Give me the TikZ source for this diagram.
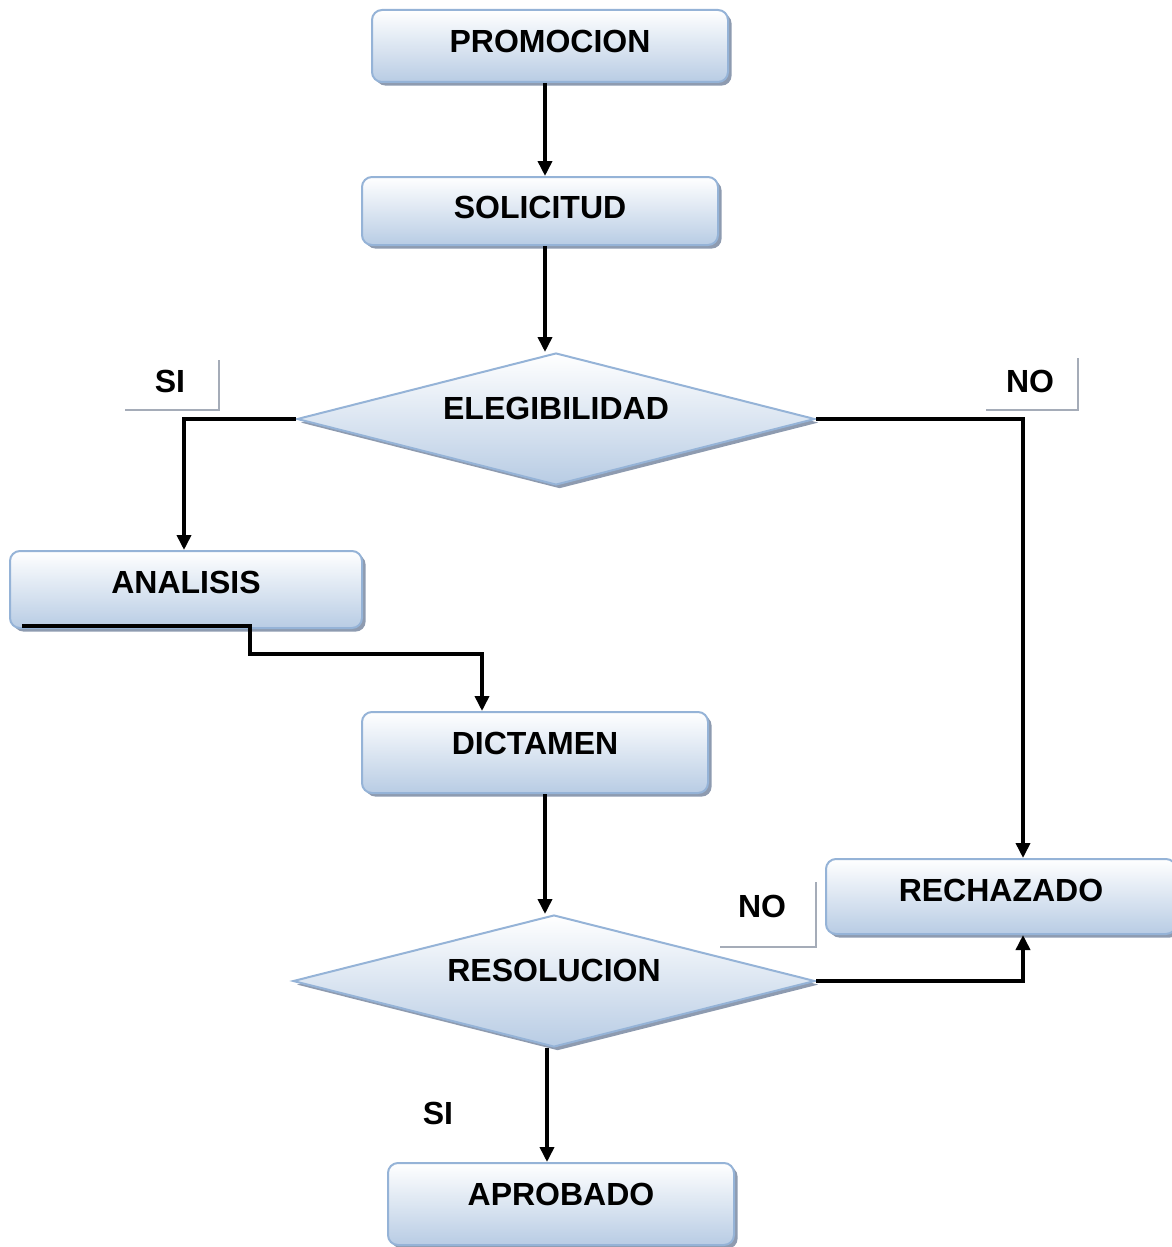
\documentclass[tikz,border=0pt]{standalone}
\usepackage{fontspec}
\setmainfont{Liberation Sans}
\usetikzlibrary{shapes.geometric,shadows,arrows.meta}
\definecolor{boxline}{HTML}{95B3D7}
\definecolor{boxbot}{HTML}{B8CCE4}
\definecolor{shadowc}{HTML}{8E9BB0}
\definecolor{brk}{HTML}{A5ACB8}
\begin{document}
\begin{tikzpicture}[x=0.5pt,y=-0.5pt,
  lbl/.style={font=\bfseries\fontsize{16}{19}\selectfont, text height=11.5pt, text depth=0pt, inner sep=0pt},
  box/.style={rectangle, rounded corners=5pt, draw=boxline, line width=1pt,
    top color=white, bottom color=boxbot,
    drop shadow={shadow xshift=1.8pt,shadow yshift=-1.8pt,fill=shadowc,opacity=1},
    font=\bfseries\fontsize{16}{19}\selectfont, text height=11.5pt, inner sep=0pt},
  decision/.style={diamond, aspect=4, draw=boxline, line width=1pt,
    top color=white, bottom color=boxbot,
    drop shadow={shadow xshift=1.8pt,shadow yshift=-1.8pt,fill=shadowc,opacity=1},
    font=\bfseries\fontsize{16}{19}\selectfont, text height=11.5pt, inner sep=0pt},
  arr/.style={line width=1.8pt, -{Triangle[length=7.5pt,width=7pt]}},
  bracket/.style={draw=brk, line width=1.4pt}
]
\useasboundingbox (0,0) rectangle (1172,1247);

% boxes
\node[box, minimum width=178pt, minimum height=36pt, text depth=5pt] (promo) at (550,46) {PROMOCION};
\node[box, minimum width=178pt, minimum height=34pt, text depth=4pt] (solic) at (540,211) {SOLICITUD};
\node[decision, minimum width=259pt, minimum height=66pt, text depth=11pt] (eleg) at (556,419) {ELEGIBILIDAD};
\node[box, minimum width=176pt, minimum height=38.5pt, text depth=7.5pt] (anal) at (186,589.5) {ANALISIS};
\node[box, minimum width=173pt, minimum height=40.5pt, text depth=9.5pt] (dict) at (535,752.5) {DICTAMEN};
\node[box, minimum width=175pt, minimum height=37.5pt, text depth=6.5pt] (rech) at (1001,896.5) {RECHAZADO};
\node[decision, minimum width=261pt, minimum height=66pt, text depth=11pt] (resol) at (554,981) {RESOLUCION};
\node[box, minimum width=173pt, minimum height=41pt, text depth=10pt] (aprob) at (561,1204) {APROBADO};

% column coordinates
\coordinate (c1) at (545,0);
\coordinate (c2) at (547,0);
\coordinate (cL) at (184,0);
\coordinate (cR) at (1023,0);
\coordinate (cD) at (482,0);
\coordinate (aStart) at (22,626);
\coordinate (aBend) at (250,654);

% connectors
\draw[arr] (promo.south -| c1) -- (solic.north -| c1);
\draw[arr] (solic.south -| c1) -- (eleg.north -| c1);
\draw[arr] (eleg.west) -| (anal.north -| cL);
\draw[arr] (eleg.east) -| (rech.north -| cR);
\draw[arr] (aStart) -| (aBend) -| (dict.north -| cD);
\draw[arr] (dict.south -| c1) -- (resol.north -| c1);
\draw[arr] (resol.east) -| (rech.south -| cR);
\draw[arr] (resol.south -| c2) -- (aprob.north -| c2);

% labels
\node[lbl] (si1) at (170,381) {SI};
\draw[bracket] (125,410) -- (219,410) -- (219,360);
\node[lbl] (no1) at (1030,381) {NO};
\draw[bracket] (986,410) -- (1078,410) -- (1078,358);
\node[lbl] (no2) at (762,906) {NO};
\draw[bracket] (720,947) -- (816,947) -- (816,882);
\node[lbl] (si2) at (438,1113) {SI};
\end{tikzpicture}
\end{document}
